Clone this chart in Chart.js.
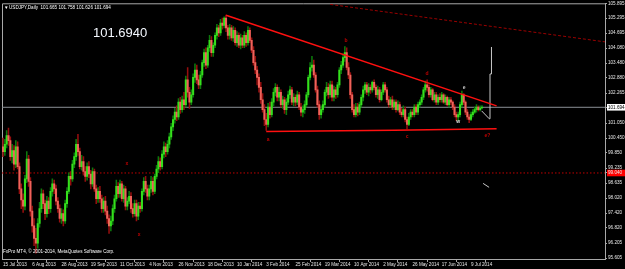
<!DOCTYPE html>
<html><head><meta charset="utf-8">
<script src="https://cdn.jsdelivr.net/npm/chart.js@4/dist/chart.umd.min.js"></script>
<style>html,body{margin:0;padding:0;background:#000;overflow:hidden}#wrap{width:625px;height:269px;position:relative}</style>
</head><body><div id="wrap"><canvas id="c" width="625" height="269"></canvas></div>
<script>
// ---- data (USDJPY Daily, bar index 0 = 15 Jul 2013) ----
const xTickIdx = [0,16,32,48,64,80,96,112,128,144,160,176,192,208,224,240,256];
const xTickLabels = ['15 Jul 2013','6 Aug 2013','28 Aug 2013','19 Sep 2013','11 Oct 2013','4 Nov 2013','26 Nov 2013','18 Dec 2013','10 Jan 2014','3 Feb 2014','25 Feb 2014','19 Mar 2014','10 Apr 2014','2 May 2014','26 May 2014','17 Jun 2014','9 Jul 2014'];
const yTickValues = [105.895,105.295,104.695,104.080,103.480,102.880,102.265,101.694,101.050,100.450,99.850,99.235,99.040,98.635,98.020,97.420,96.820,96.205,95.605];

const opens = [
100.10,99.90,100.20,100.55,100.35,99.70,99.95,99.40,100.10,99.30,
98.40,97.95,97.70,98.80,99.60,98.70,97.50,96.90,96.40,96.20,
97.00,97.60,98.20,97.80,97.40,97.90,97.60,98.30,98.60,98.40,
97.90,97.60,97.20,97.40,97.10,97.80,98.30,98.90,98.80,99.40,
99.70,100.20,99.90,99.30,99.50,99.10,98.90,99.30,99.00,98.60,
99.10,98.40,98.00,98.30,98.00,97.60,97.90,97.50,97.20,96.90,
97.10,97.60,98.00,98.50,98.20,98.60,98.00,98.40,97.70,97.90,
98.10,97.60,97.40,97.80,97.30,97.70,97.60,98.30,98.70,98.40,
98.10,98.40,98.70,98.30,98.90,99.20,99.50,99.30,99.80,100.10,
99.90,100.20,100.50,100.90,101.20,101.50,101.30,101.90,101.60,102.00,
101.80,102.80,102.30,101.90,102.20,102.90,103.20,102.80,102.60,103.00,
103.50,103.90,103.40,104.10,104.40,103.90,104.20,104.60,104.90,104.70,
105.10,105.00,105.30,104.90,104.60,104.90,104.50,104.80,104.30,104.60,
104.20,104.50,104.20,104.60,104.30,104.80,104.40,104.00,103.50,103.20,
102.90,102.50,102.00,101.60,101.20,101.00,101.70,101.40,101.90,102.30,
102.50,102.10,102.30,101.80,102.00,101.60,101.90,102.20,102.40,101.90,
102.10,101.90,102.20,101.70,101.50,101.60,101.80,102.20,102.90,103.30,
103.40,103.00,102.40,101.80,101.40,101.60,101.80,102.30,102.50,102.20,
102.60,102.10,102.40,102.20,102.60,103.20,103.40,103.70,103.90,103.30,
103.00,102.20,101.60,101.40,101.70,101.50,101.80,102.10,102.40,102.60,
102.30,102.50,102.40,102.70,102.50,102.20,102.40,102.00,102.30,102.60,
102.40,102.00,101.80,102.00,101.70,101.90,101.60,101.80,101.50,101.40,
101.60,101.20,101.00,101.30,101.50,101.40,101.70,101.50,101.80,101.90,
102.10,102.40,102.60,102.50,102.20,102.40,102.00,102.20,101.90,102.10,
102.00,102.20,101.90,102.10,101.80,102.00,101.90,101.70,101.40,101.30,
101.40,101.80,102.20,101.90,101.50,101.30,101.20,101.40,101.50,101.60,
101.70,101.60,101.665];
const highs = [
100.45,100.40,100.75,100.85,100.50,100.20,100.15,100.35,100.30,99.45,
98.60,98.20,98.95,99.90,99.75,98.85,97.70,97.20,96.80,97.20,
97.85,98.40,98.35,97.95,98.10,98.05,98.45,98.80,98.75,98.55,
98.05,97.75,97.60,97.55,97.95,98.45,99.05,99.10,99.55,99.85,
100.40,100.60,100.05,99.75,99.70,99.30,99.45,99.50,99.15,99.25,
99.20,98.55,98.45,98.50,98.15,98.05,98.10,97.70,97.35,97.30,
97.75,98.15,98.75,98.65,98.75,98.70,98.55,98.50,98.05,98.30,
98.25,97.80,97.95,97.95,97.85,97.85,98.40,98.85,98.90,98.55,
98.55,98.90,98.85,99.00,99.35,99.70,99.65,99.95,100.30,100.25,
100.35,100.65,101.05,101.35,101.65,101.75,102.05,102.10,102.15,102.30,
102.95,103.30,102.50,102.40,103.05,103.45,103.40,103.00,103.15,103.60,
104.05,104.10,104.20,104.60,104.55,104.30,104.70,105.05,105.00,105.25,
105.30,105.35,105.42,105.00,105.05,105.00,104.95,104.90,104.75,104.70,
104.65,104.60,104.75,104.70,104.95,104.90,104.50,104.15,103.75,103.35,
103.05,102.70,102.25,101.80,101.45,101.85,101.90,102.05,102.45,102.65,
102.60,102.50,102.40,102.15,102.10,102.05,102.35,102.55,102.50,102.25,
102.20,102.35,102.30,101.85,101.75,101.95,102.30,103.00,103.50,103.75,
103.60,103.10,102.55,101.95,101.75,101.95,102.40,102.70,102.65,102.75,
102.75,102.55,102.50,102.70,103.30,103.55,103.85,104.15,104.10,103.50,
103.10,102.30,101.80,101.85,101.85,101.90,102.20,102.55,102.70,102.70,
102.65,102.60,102.75,102.80,102.60,102.55,102.50,102.40,102.70,102.70,
102.50,102.15,102.10,102.15,102.00,102.00,101.95,101.90,101.65,101.75,
101.70,101.30,101.45,101.60,101.60,101.80,101.80,101.90,102.00,102.20,
102.50,102.75,102.80,102.60,102.50,102.45,102.30,102.30,102.20,102.25,
102.30,102.25,102.20,102.15,102.10,102.10,101.95,101.80,101.50,101.50,
101.90,102.35,102.25,101.95,101.60,101.40,101.50,101.60,101.70,101.80,
101.75,101.75,101.758];
const lows = [
99.70,99.75,100.05,100.15,99.55,99.45,99.15,99.25,99.20,98.20,
97.60,97.45,97.55,98.65,98.50,97.30,96.65,96.10,95.80,96.00,
96.85,97.45,97.60,97.15,97.25,97.40,97.45,98.10,98.20,97.75,
97.45,97.05,97.00,96.90,97.00,97.65,98.20,98.55,98.70,99.25,
99.55,99.75,99.20,99.15,98.95,98.70,98.75,98.85,98.40,98.50,
98.30,97.80,97.85,97.85,97.45,97.45,97.35,97.00,96.60,96.70,
96.95,97.45,97.90,98.05,98.05,97.90,97.85,97.55,97.55,97.80,
97.45,97.25,97.30,97.10,97.15,97.45,97.50,98.15,98.25,97.95,
97.95,98.25,98.15,98.20,98.80,99.05,99.15,99.20,99.65,99.70,
99.80,100.05,100.40,100.75,101.05,101.15,101.20,101.45,101.50,101.60,
101.70,102.10,101.65,101.80,102.10,102.70,102.65,102.45,102.45,102.90,
103.35,103.25,103.30,103.95,103.75,103.75,104.10,104.45,104.55,104.60,
104.85,104.90,104.75,104.45,104.45,104.40,104.35,104.20,104.15,104.10,
104.05,104.10,104.10,104.15,104.20,104.30,103.90,103.40,103.05,102.60,
102.30,101.85,101.50,100.95,100.76,100.90,101.25,101.30,101.75,102.15,
101.95,101.95,101.70,101.65,101.45,101.40,101.80,102.05,101.80,101.75,
101.75,101.80,101.60,101.35,101.30,101.45,101.70,102.10,102.80,103.15,
102.90,102.30,101.70,101.20,101.25,101.50,101.70,102.15,102.05,102.10,
101.95,101.95,102.05,102.10,102.50,103.05,103.30,103.55,103.20,102.85,
102.05,101.50,101.30,101.30,101.35,101.40,101.70,101.95,102.25,102.20,
102.15,102.25,102.30,102.40,102.10,102.05,101.90,101.95,102.20,102.30,
101.90,101.70,101.70,101.60,101.60,101.50,101.55,101.40,101.30,101.30,
101.10,100.82,100.95,101.20,101.30,101.30,101.40,101.40,101.70,101.80,
102.00,102.30,102.35,102.10,102.10,101.95,101.90,101.80,101.80,101.90,
101.90,101.85,101.80,101.75,101.70,101.80,101.60,101.30,101.15,101.15,
101.30,101.70,101.80,101.40,101.20,101.07,101.15,101.30,101.45,101.50,
101.55,101.55,101.626];
const closes = [
99.90,100.20,100.55,100.35,99.70,99.95,99.40,100.10,99.30,98.40,
97.95,97.70,98.80,99.60,98.70,97.50,96.90,96.40,96.20,97.00,
97.60,98.20,97.80,97.40,97.90,97.60,98.30,98.60,98.40,97.90,
97.60,97.20,97.40,97.10,97.80,98.30,98.90,98.80,99.40,99.70,
100.20,99.90,99.30,99.50,99.10,98.90,99.30,99.00,98.60,99.10,
98.40,98.00,98.30,98.00,97.60,97.90,97.50,97.20,96.90,97.10,
97.60,98.00,98.50,98.20,98.60,98.00,98.40,97.70,97.90,98.10,
97.60,97.40,97.80,97.30,97.70,97.60,98.30,98.70,98.40,98.10,
98.40,98.70,98.30,98.90,99.20,99.50,99.30,99.80,100.10,99.90,
100.20,100.50,100.90,101.20,101.50,101.30,101.90,101.60,102.00,101.80,
102.80,102.30,101.90,102.20,102.90,103.20,102.80,102.60,103.00,103.50,
103.90,103.40,104.10,104.40,103.90,104.20,104.60,104.90,104.70,105.10,
105.00,105.30,104.90,104.60,104.90,104.50,104.80,104.30,104.60,104.20,
104.50,104.20,104.60,104.30,104.80,104.40,104.00,103.50,103.20,102.90,
102.50,102.00,101.60,101.20,101.00,101.70,101.40,101.90,102.30,102.50,
102.10,102.30,101.80,102.00,101.60,101.90,102.20,102.40,101.90,102.10,
101.90,102.20,101.70,101.50,101.60,101.80,102.20,102.90,103.30,103.40,
103.00,102.40,101.80,101.40,101.60,101.80,102.30,102.50,102.20,102.60,
102.10,102.40,102.20,102.60,103.20,103.40,103.70,103.90,103.30,103.00,
102.20,101.60,101.40,101.70,101.50,101.80,102.10,102.40,102.60,102.30,
102.50,102.40,102.70,102.50,102.20,102.40,102.00,102.30,102.60,102.40,
102.00,101.80,102.00,101.70,101.90,101.60,101.80,101.50,101.40,101.60,
101.20,101.00,101.30,101.50,101.40,101.70,101.50,101.80,101.90,102.10,
102.40,102.60,102.50,102.20,102.40,102.00,102.20,101.90,102.10,102.00,
102.20,101.90,102.10,101.80,102.00,101.90,101.70,101.40,101.30,101.40,
101.80,102.20,101.90,101.50,101.30,101.20,101.40,101.50,101.60,101.70,
101.60,101.665,101.694];

const currentPrice = 101.694;
const alertPrice = 99.040;
const headerText = 'USDJPY,Daily  101.665 101.758 101.626 101.694';
const bigText = '101.6940';
const footerText = 'FxPro MT4, \u00A9 2001-2014, MetaQuotes Software Corp.';

// drawn objects, in (bar index, price)
const trendLine = [{x:122,y:105.41},{x:270,y:101.75}];
const supportLine = [{x:144,y:100.72},{x:214,y:100.77},{x:270,y:100.83}];
const upperDotLine = [{x:179,y:105.85},{x:330,y:104.33}];
const projection = [{x:261.8,y:101.55},{x:266,y:101.23},{x:266.4,y:101.23},{x:266.4,y:103.04},{x:267.2,y:103.04},{x:267.2,y:104.13}];
const smallDash = [{x:262.6,y:98.62},{x:265.9,y:98.46}];
const waveLabels = [
  {t:'a',x:145,y:100.35,c:'#c00000'},
  {t:'b',x:187.6,y:104.35,c:'#c00000'},
  {t:'c',x:221,y:100.45,c:'#c00000'},
  {t:'d',x:232,y:102.98,c:'#c00000'},
  {t:'e?',x:265,y:100.50,c:'#c00000'},
  {t:'w',x:249,y:101.05,c:'#e0e0e0'},
  {t:'e',x:252.2,y:102.45,c:'#c8c8c8'},
  {t:'x',x:67.8,y:99.36,c:'#c00000'},
  {t:'x',x:74.4,y:96.48,c:'#c00000'}
];

// ---- build ----
const XMIN = -0.55, XMAX = 329.3;
const idx = closes.map((_, i) => i);
const up = idx.map(i => closes[i] >= opens[i]);
const wickData = idx.map(i => ({x:i, y:[lows[i], highs[i]]}));
const bodyData = idx.map(i => ({x:i, y:[Math.min(opens[i],closes[i]), Math.max(opens[i],closes[i])]}));

const FONT = '"Liberation Sans", Arial, sans-serif';

const framePlugin = {
  id:'frame',
  beforeDatasetsDraw(chart){
    const {ctx, chartArea:a} = chart;
    ctx.save();
    ctx.strokeStyle = '#a8a8a8'; ctx.lineWidth = 1;
    ctx.beginPath();
    ctx.moveTo(a.left+0.5, a.bottom); ctx.lineTo(a.left+0.5, a.top+0.5); ctx.lineTo(a.right, a.top+0.5);
    ctx.stroke();
    ctx.restore();
  },
  afterDatasetsDraw(chart){
    const {ctx, scales:{x,y}, chartArea:a} = chart;
    ctx.save();
    ctx.textBaseline = 'alphabetic';
    ctx.fillStyle = '#ffffff';
    ctx.font = '4.6px ' + FONT;
    ctx.fillText('\u25BC', a.left+2, a.top+6);
    ctx.fillText(headerText, a.left+7, a.top+6);
    ctx.fillText(footerText, a.left+1, a.bottom-6);
    ctx.font = '13px ' + FONT;
    ctx.fillStyle = '#f4f8ff';
    ctx.fillText(bigText, 93, 37);
    ctx.font = 'bold 5px ' + FONT;
    ctx.textAlign = 'center';
    for (const w of waveLabels) {
      ctx.fillStyle = w.c;
      ctx.fillText(w.t, x.getPixelForValue(w.x), y.getPixelForValue(w.y));
    }
    ctx.restore();
  }
};

const lineDs = (data, color, width, dash, order) => ({
  type:'line', data, borderColor:color, borderWidth:width, borderDash:dash||[],
  pointRadius:0, fill:false, tension:0, order:order
});

new Chart(document.getElementById('c'), {
  type:'bar',
  data:{ datasets:[
    lineDs([{x:XMIN,y:currentPrice},{x:XMAX,y:currentPrice}], '#8a8f96', 1, [], 5),
    lineDs([{x:XMIN,y:alertPrice},{x:XMAX,y:alertPrice}], '#c00000', 1, [1.5,2], 5),
    {type:'bar', data:wickData, backgroundColor:up.map(u => u ? '#0c7a0c' : '#950e0e'), barThickness:0.9, grouped:false, order:4},
    {type:'bar', data:bodyData, backgroundColor:up.map(u => u ? '#35e01c' : '#f0625a'), barThickness:1.4, grouped:false, minBarLength:1, order:3},
    lineDs(trendLine, '#ff1010', 1.5, [], 1),
    lineDs(supportLine, '#ff1010', 1.5, [], 1),
    lineDs(upperDotLine, '#9a0000', 1, [3,2], 1),
    lineDs(projection, '#c8c8c8', 1, [], 1),
    lineDs(smallDash, '#c8c8c8', 1, [], 1)
  ]},
  options:{
    responsive:false, animation:false, devicePixelRatio:1,
    layout:{padding:{left:2, top:2, right:0, bottom:0}},
    plugins:{legend:{display:false}, tooltip:{enabled:false}},
    scales:{
      x:{
        type:'linear', position:'bottom', min:XMIN, max:XMAX, offset:false,
        afterFit:s => { s.height = 10; },
        afterBuildTicks:s => { s.ticks = xTickIdx.map(v => ({value:v})); },
        grid:{drawOnChartArea:false, drawTicks:true, tickLength:3, color:'#a8a8a8'},
        border:{display:true, color:'#a8a8a8'},
        ticks:{
          autoSkip:false, maxRotation:0, minRotation:0, align:'start', padding:0,
          color:'#e8e8e8', font:{size:4.6, family:FONT},
          callback:(v) => xTickLabels[xTickIdx.indexOf(v)] || ''
        }
      },
      y:{
        type:'linear', position:'right', min:95.565, max:105.895,
        afterFit:s => { s.width = 20; },
        afterBuildTicks:s => { s.ticks = yTickValues.map(v => ({value:v})); },
        grid:{drawOnChartArea:false, drawTicks:true, tickLength:2, color:'#a8a8a8'},
        border:{display:true, color:'#a8a8a8'},
        ticks:{
          padding:1, font:{size:4.6, family:FONT, lineHeight:1},
          callback:v => Number(v).toFixed(3),
          color:c => c.tick && c.tick.value === currentPrice ? '#000000' : '#e8e8e8',
          showLabelBackdrop:c => !!c.tick && (c.tick.value === currentPrice || c.tick.value === alertPrice),
          backdropColor:c => c.tick && c.tick.value === currentPrice ? '#ffffff' : '#ff0000',
          backdropPadding:{left:1, right:3, top:1, bottom:1}
        }
      }
    }
  },
  plugins:[framePlugin]
});
</script></body></html>
